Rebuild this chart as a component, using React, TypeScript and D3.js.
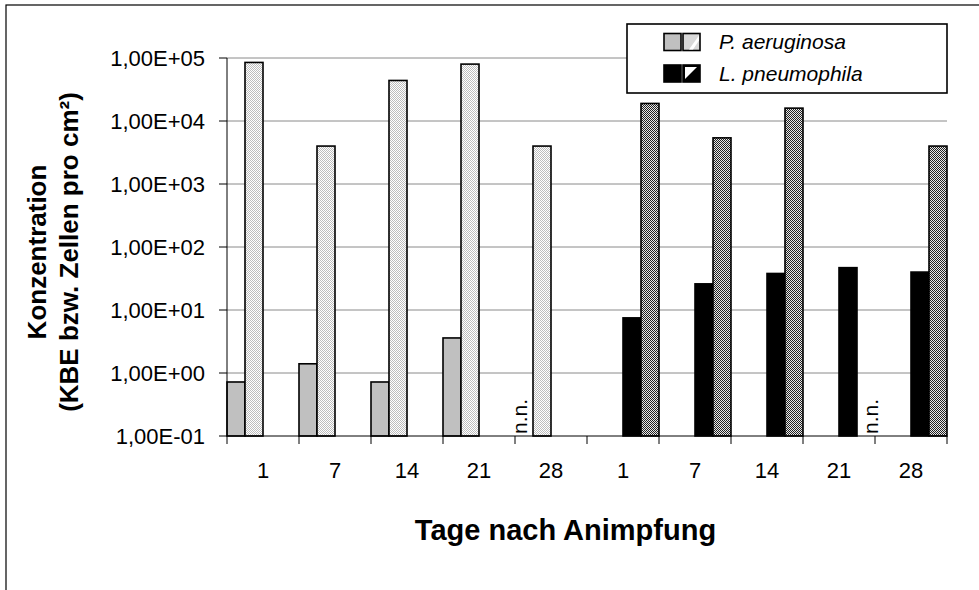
import React from 'react';
import * as d3 from 'd3';

const categories = ['1', '7', '14', '21', '28', '1', '7', '14', '21', '28'];
const paSolid: (number | null)[] = [0.72, 1.4, 0.72, 3.6, null, null, null, null, null, null];
const paHatched: (number | null)[] = [85000, 4000, 44000, 80000, 4000, null, null, null, null, null];
const lpSolid: (number | null)[] = [null, null, null, null, null, 7.5, 26, 38, 47, 40];
const lpHatched: (number | null)[] = [null, null, null, null, null, 19000, 5400, 16000, null, 4000];
const yTicks = [0.1, 1, 10, 100, 1000, 10000, 100000];
const yTickLabels = ['1,00E-01', '1,00E+00', '1,00E+01', '1,00E+02', '1,00E+03', '1,00E+04', '1,00E+05'];
const nnLabels = [{ cat: 4, slot: 0, dx: -4 }, { cat: 8, slot: 3, dx: 5 }];
const legendItems = ['P. aeruginosa', 'L. pneumophila'];

const W = 979, H = 590;
const M = { left: 227, right: 947, top: 58, bottom: 436 };
const FONT = 'Arial, "Liberation Sans", sans-serif';

export default function App() {
  const x = d3.scaleBand<number>().domain(categories.map((_, i) => i)).range([M.left, M.right]).padding(0);
  const slot = d3.scaleBand<number>().domain([0, 1, 2, 3]).range([0, x.bandwidth()]).padding(0);
  const y = d3.scaleLog().domain([0.1, 100000]).range([M.bottom, M.top]);
  const allSeries = [paSolid, paHatched, lpSolid, lpHatched];
  const fills = ['#c0c0c0', 'url(#lightHatch)', '#000000', 'url(#darkHatch)'];

  const bars: React.ReactNode[] = [];
  allSeries.forEach((s, si) => {
    s.forEach((v, ci) => {
      if (v == null) return;
      const bx = (x(ci) as number) + (slot(si) as number);
      bars.push(
        <rect key={`b${si}-${ci}`} x={bx} y={y(v)} width={slot.bandwidth()} height={M.bottom - y(v)}
          fill={fills[si]} stroke="#000" strokeWidth={1.6} />
      );
    });
  });

  const boundaries = d3.range(categories.length + 1).map(i => M.left + i * x.bandwidth());

  return (
    <svg width={W} height={H} style={{ position: 'absolute', left: 0, top: 0, background: '#fff' }} fontFamily={FONT}>
      <defs>
        <pattern id="lightHatch" width="2" height="2" patternUnits="userSpaceOnUse">
          <rect width="2" height="2" fill="#ffffff" />
          <rect x="0" y="0" width="1" height="1" fill="#bdbdbd" />
          <rect x="1" y="1" width="1" height="1" fill="#bdbdbd" />
        </pattern>
        <pattern id="darkHatch" width="2" height="2" patternUnits="userSpaceOnUse">
          <rect width="2" height="2" fill="#e8e8e8" />
          <rect x="0" y="0" width="1" height="1" fill="#222" />
          <rect x="1" y="1" width="1" height="1" fill="#222" />
        </pattern>
      </defs>
      <rect x={6} y={5} width={W + 20} height={H + 20} fill="#fff" stroke="#000" strokeWidth={1.2} />

      {yTicks.slice(1).map(t => (
        <line key={`g${t}`} x1={M.left} x2={M.right} y1={y(t)} y2={y(t)} stroke="#8a8a8a" strokeWidth={1} />
      ))}

      {bars}

      <line x1={M.left} x2={M.left} y1={M.top} y2={M.bottom} stroke="#000" strokeWidth={1} />
      <line x1={M.left} x2={M.right} y1={M.bottom} y2={M.bottom} stroke="#000" strokeWidth={1} />
      {yTicks.map((t, i) => (
        <g key={`yt${t}`}>
          <line x1={M.left - 8} x2={M.left} y1={y(t)} y2={y(t)} stroke="#000" />
          <text x={205} y={y(t)} dy="0.36em" textAnchor="end" fontSize={22} fill="#000">{yTickLabels[i]}</text>
        </g>
      ))}
      {boundaries.map((b, i) => (
        <line key={`xt${i}`} x1={b} x2={b} y1={M.bottom} y2={M.bottom + 8} stroke="#000" />
      ))}
      {categories.map((c, i) => (
        <text key={`xl${i}`} x={(x(i) as number) + x.bandwidth() / 2} y={478} textAnchor="middle" fontSize={22} fill="#000">{c}</text>
      ))}

      {nnLabels.map((n, i) => {
        const cx = (x(n.cat) as number) + (slot(n.slot) as number) + slot.bandwidth() / 2 + n.dx;
        return (
          <text key={`nn${i}`} transform={`translate(${cx + 7},${M.bottom - 2}) rotate(-90)`} fontSize={21} fill="#000">n.n.</text>
        );
      })}

      <text x={(413 + 718) / 2} y={540} textAnchor="middle" fontSize={29} fontWeight="bold" fill="#000">Tage nach Animpfung</text>
      <g transform={`translate(46,${252}) rotate(-90)`}>
        <text x={0} y={0} textAnchor="middle" fontSize={26} fontWeight="bold" fill="#000">Konzentration</text>
        <text x={0} y={32} textAnchor="middle" fontSize={26} fontWeight="bold" fill="#000">(KBE bzw. Zellen pro cm²)</text>
      </g>

      <g>
        <rect x={627} y={24} width={320} height={69} fill="#fff" stroke="#000" strokeWidth={1.6} />
        {legendItems.map((name, i) => {
          const cy = 41.5 + i * 31.5;
          const s0 = i === 0 ? '#c0c0c0' : '#000';
          return (
            <g key={`lg${i}`}>
              <rect x={664} y={cy - 8} width={17} height={17} fill={s0} stroke="#000" strokeWidth={1.6} />
              {i === 0 ? (
                <g>
                  <rect x={683} y={cy - 8} width={17} height={17} fill="#d8d8d8" stroke="#000" strokeWidth={1.6} />
                  <polygon points={`${689},${cy + 8} ${699},${cy - 6} ${699},${cy - 1} ${693},${cy + 8}`} fill="#fff" />
                </g>
              ) : (
                <g>
                  <rect x={683} y={cy - 8} width={17} height={17} fill="#000" stroke="#000" strokeWidth={1.6} />
                  <polygon points={`${685},${cy - 6} ${697},${cy - 6} ${685},${cy + 6}`} fill="#fff" />
                  <polygon points={`${689},${cy + 7} ${698},${cy - 3} ${698},${cy + 7}`} fill="#000" />
                </g>
              )}
              <text x={719} y={cy} dy="0.36em" fontSize={21} fontStyle="italic" fill="#000">{name}</text>
            </g>
          );
        })}
      </g>
    </svg>
  );
}
